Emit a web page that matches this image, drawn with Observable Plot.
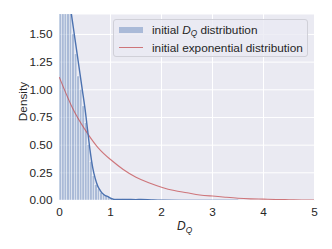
<!DOCTYPE html>
<html>
<head>
<meta charset="utf-8">
<script src="https://cdn.jsdelivr.net/npm/d3@7"></script>
<script src="https://cdn.jsdelivr.net/npm/@observablehq/plot@0.6"></script>
<style>
  html, body { margin: 0; padding: 0; background: white; }
  #wrap { position: relative; width: 332px; height: 249px; font-family: "Liberation Sans", Arial, sans-serif; color: #262626; }
  #legend { position: absolute; left: 113px; top: 19px; width: 195px; height: 38px; box-sizing: border-box;
    background: rgba(234,234,242,0.8); border: 1px solid #d0d0d8; border-radius: 3px; font-size: 11.8px; }
  .sw { position: absolute; left: 5px; width: 24px; }
  .lbl { position: absolute; left: 38px; white-space: nowrap; }
  #xlabel { position: absolute; left: 177px; top: 219px; font-size: 12px; font-style: italic; }
  sub { font-size: 0.7em; vertical-align: -0.3em; }
</style>
</head>
<body>
<div id="wrap">
  <div id="chart"></div>
  <div id="legend">
    <div class="sw" style="top:7px;height:6px;background:rgba(76,114,176,0.4)"></div>
    <div class="lbl" style="top:3px">initial <i>D</i><sub><i>Q</i></sub> distribution</div>
    <div class="sw" style="top:27px;height:0;border-top:1px solid rgba(196,78,82,0.75)"></div>
    <div class="lbl" style="top:21px">initial exponential distribution</div>
  </div>
  <div id="xlabel">D<sub>Q</sub></div>
</div>
<script>
// histogram bins (left edges, width 0.05) and densities
const binStart = [0,0.05,0.1,0.15,0.2,0.25,0.3,0.35,0.4,0.45,0.5,0.55,0.6,0.65,0.7,0.75,0.8,0.85,0.9,0.95,1.0,1.05,1.1,1.15,1.2,1.25,1.3,1.35,1.4,1.45,1.5,1.55,1.6,1.65];
const binDensity = [2.6,2.3,2.05,1.9,1.7,1.5,1.32,1.12,1.0,0.85,0.7,0.5,0.35,0.22,0.14,0.1,0.07,0.05,0.04,0.03,0.02,0.012,0.01,0.008,0.01,0.006,0.008,0.005,0.007,0.004,0.006,0.005,0.004,0.003];
const binWidth = 0.05;

// KDE curve of D_Q
const kdeX = [0,0.05,0.1,0.15,0.2,0.25,0.3,0.35,0.4,0.45,0.5,0.55,0.6,0.65,0.7,0.75,0.8,0.85,0.9,0.95,1.0,1.05,1.1,1.3,1.5,1.6,1.8,2.0,2.5,3.0,3.5];
const kdeY = [2.45,2.3,2.13,1.95,1.79,1.63,1.47,1.31,1.15,0.99,0.83,0.64,0.45,0.3,0.2,0.13,0.09,0.06,0.045,0.035,0.022,0.013,0.01,0.01,0.008,0.01,0.006,0.003,0.001,0,0];

// exponential reference curve
const expX = [0,0.25,0.5,0.75,1,1.25,1.5,1.75,2,2.25,2.5,2.75,3,3.25,3.5,3.75,4,4.25,4.5,4.75,5];
const expY = [1.11,0.84,0.64,0.48,0.37,0.28,0.21,0.16,0.12,0.09,0.07,0.05,0.04,0.03,0.02,0.015,0.012,0.009,0.007,0.005,0.004];

const xTicks = [0,1,2,3,4,5];
const yTicks = [0,0.25,0.5,0.75,1.0,1.25,1.5];
const yLabel = ["Density"];

const bins = binStart.map((s,i)=>({x1:s, x2:s+binWidth, y:binDensity[i]}));
const kde = kdeX.map((x,i)=>({x, y:kdeY[i]}));
const expo = expX.map((x,i)=>({x, y:expY[i]}));

const chart = Plot.plot({
  width: 332, height: 249,
  marginLeft: 59, marginRight: 18, marginTop: 14, marginBottom: 49,
  style: { background: "white", fontFamily: '"Liberation Sans", Arial, sans-serif', fontSize: "11.8px", color: "#262626" },
  x: { domain: [0,5] },
  y: { domain: [0,1.68] },
  marks: [
    Plot.frame({ fill: "#EAEAF2", stroke: null }),
    Plot.gridX(xTicks, { stroke: "white", strokeOpacity: 1, strokeWidth: 1 }),
    Plot.gridY(yTicks, { stroke: "white", strokeOpacity: 1, strokeWidth: 1 }),
    Plot.rectY(bins, { x1: "x1", x2: "x2", y: "y", fill: "#4C72B0", fillOpacity: 0.4, stroke: "white", strokeWidth: 0.4, clip: true, inset: 0 }),
    Plot.line(expo, { x: "x", y: "y", stroke: "#C44E52", strokeOpacity: 0.75, strokeWidth: 1.1, curve: "natural", clip: true }),
    Plot.line(kde, { x: "x", y: "y", stroke: "#4C72B0", strokeWidth: 1.4, curve: "monotone-x", clip: true }),
    Plot.axisX(xTicks, { tickSize: 0, tickPadding: 7.5, tickFormat: d => String(d), label: null }),
    Plot.axisY(yTicks, { tickSize: 0, tickPadding: 7, tickFormat: d => d.toFixed(2), label: null }),
    Plot.text(yLabel, { text: d => d, frameAnchor: "left", textAnchor: "middle", rotate: -90, dx: -36, dy: -6, fontSize: 11.8, fill: "#262626" })
  ]
});
document.getElementById("chart").appendChild(chart);
</script>
</body>
</html>
